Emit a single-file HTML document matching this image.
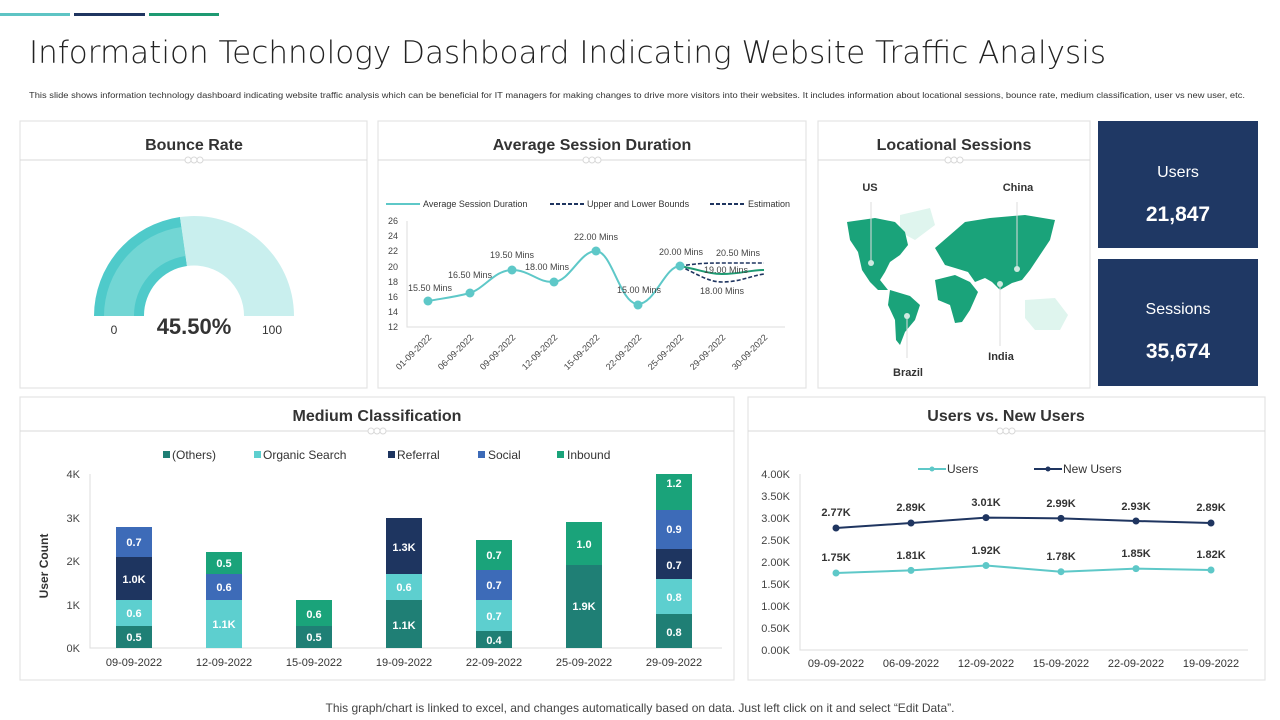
<!DOCTYPE html>
<html><head><meta charset="utf-8"><style>
body{margin:0;background:#fff;}
svg{display:block;font-family:"Liberation Sans",sans-serif;}
</style></head><body>
<svg width="1280" height="720" viewBox="0 0 1280 720" xmlns="http://www.w3.org/2000/svg">
<rect width="1280" height="720" fill="#fff"/>
<rect x="0" y="13" width="70" height="3" fill="#5ec4c4"/>
<rect x="74" y="13" width="71" height="3" fill="#1f3560"/>
<rect x="149" y="13" width="70" height="3" fill="#1e9a72"/>
<text x="29" y="63" font-size="31" fill="#222" font-family="DejaVu Sans, Liberation Sans, sans-serif" font-weight="200" textLength="1077" lengthAdjust="spacingAndGlyphs">Information Technology Dashboard Indicating Website Traffic Analysis</text>
<text x="29" y="98" font-size="8" fill="#333" textLength="1216" lengthAdjust="spacingAndGlyphs">This slide shows information technology dashboard indicating website traffic analysis which can be beneficial for IT managers for making changes to drive more visitors into their websites.  It includes information about locational sessions, bounce rate, medium classification, user vs new user, etc.</text>

<g fill="#fff" stroke="#e4e4e4" stroke-width="1.2">
<rect x="20" y="121" width="347" height="267"/>
<rect x="378" y="121" width="428" height="267"/>
<rect x="818" y="121" width="272" height="267"/>
<rect x="20" y="397" width="714" height="283"/>
<rect x="748" y="397" width="517" height="283"/>
</g>
<rect x="1098" y="121" width="160" height="127" fill="#1f3864"/>
<rect x="1098" y="259" width="160" height="127" fill="#1f3864"/>
<text x="1178" y="177" font-size="16" fill="#fff" text-anchor="middle">Users</text>
<text x="1178" y="221" font-size="21" font-weight="bold" fill="#fff" text-anchor="middle">21,847</text>
<text x="1178" y="314" font-size="16" fill="#fff" text-anchor="middle">Sessions</text>
<text x="1178" y="358" font-size="21" font-weight="bold" fill="#fff" text-anchor="middle">35,674</text>

<!-- titles -->
<g font-size="16" font-weight="bold" fill="#333" text-anchor="middle">
<text x="194" y="150">Bounce Rate</text>
<text x="592" y="150">Average Session Duration</text>
<text x="954" y="150">Locational Sessions</text>
<text x="377" y="421">Medium Classification</text>
<text x="1006" y="421">Users vs. New Users</text>
</g>
<g stroke="#d8d8d8" stroke-width="1" fill="#fff">
<line x1="20" y1="160" x2="367" y2="160"/><line x1="378" y1="160" x2="806" y2="160"/><line x1="818" y1="160" x2="1090" y2="160"/>
<line x1="20" y1="431" x2="734" y2="431"/><line x1="748" y1="431" x2="1265" y2="431"/>
<circle cx="188" cy="160" r="3"/><circle cx="194" cy="160" r="3"/><circle cx="200" cy="160" r="3"/>
<circle cx="586" cy="160" r="3"/><circle cx="592" cy="160" r="3"/><circle cx="598" cy="160" r="3"/>
<circle cx="948" cy="160" r="3"/><circle cx="954" cy="160" r="3"/><circle cx="960" cy="160" r="3"/>
<circle cx="371" cy="431" r="3"/><circle cx="377" cy="431" r="3"/><circle cx="383" cy="431" r="3"/>
<circle cx="1000" cy="431" r="3"/><circle cx="1006" cy="431" r="3"/><circle cx="1012" cy="431" r="3"/>
</g>

<!-- gauge -->
<path d="M94 316 A100 100 0 0 1 180 217 L187 266 A50 50 0 0 0 144 316 Z" fill="#4fcaca"/>
<path d="M104 316 A90 90 0 0 1 181.5 227 L185.5 256 A60 60 0 0 0 134 316 Z" fill="#72d6d4"/>
<path d="M114 316 A80 80 0 0 1 183 237 Z" fill="none"/>
<path d="M180 217 A100 100 0 0 1 294 316 L244 316 A50 50 0 0 0 187 266 Z" fill="#c9efee"/>
<text x="114" y="334" font-size="12" fill="#333" text-anchor="middle">0</text>
<text x="272" y="334" font-size="12" fill="#333" text-anchor="middle">100</text>
<text x="194" y="334" font-size="22" font-weight="bold" fill="#333" text-anchor="middle">45.50%</text>

<!-- avg session -->
<g font-size="9" fill="#333">
<line x1="386" y1="204" x2="420" y2="204" stroke="#5ec8c8" stroke-width="2"/><text x="423" y="207">Average Session Duration</text>
<line x1="550" y1="204" x2="584" y2="204" stroke="#1f3560" stroke-width="2" stroke-dasharray="4,2"/><text x="587" y="207">Upper and Lower Bounds</text>
<line x1="710" y1="204" x2="744" y2="204" stroke="#1f3560" stroke-width="2" stroke-dasharray="4,2"/><text x="748" y="207">Estimation</text>
</g>
<g font-size="9" fill="#444" text-anchor="end">
<text x="398" y="224">26</text><text x="398" y="239">24</text><text x="398" y="254">22</text><text x="398" y="270">20</text><text x="398" y="285">18</text><text x="398" y="300">16</text><text x="398" y="315">14</text><text x="398" y="330">12</text>
</g>
<polyline points="407,221 407,327 785,327" fill="none" stroke="#ddd"/>
<path d="M428 301 C445 298,455 297,470 293 C485 288,495 270,512 270 C530 270,538 283,554 282 C570 281,580 251,596 251 C612 251,620 304,638 304 C655 304,665 266,680 266" fill="none" stroke="#5ec8c8" stroke-width="2"/>
<path d="M680 266 C700 270,710 274,722 274 C740 274,750 270,764 270" fill="none" stroke="#1e9a72" stroke-width="2"/>
<path d="M680 266 C700 263,710 263,722 263 L764 263" fill="none" stroke="#1f3560" stroke-width="1.6" stroke-dasharray="4,2"/>
<path d="M680 266 C700 276,710 282,722 282 C740 282,750 276,764 274" fill="none" stroke="#1f3560" stroke-width="1.6" stroke-dasharray="4,2"/>
<g fill="#5ec8c8"><circle cx="428" cy="301" r="4.5"/><circle cx="470" cy="293" r="4.5"/><circle cx="512" cy="270" r="4.5"/><circle cx="554" cy="282" r="4.5"/><circle cx="596" cy="251" r="4.5"/><circle cx="638" cy="305" r="4.5"/><circle cx="680" cy="266" r="4.5"/></g>
<g font-size="9" fill="#444" text-anchor="middle">
<text x="430" y="291">15.50 Mins</text><text x="470" y="278">16.50 Mins</text><text x="512" y="258">19.50 Mins</text><text x="547" y="270">18.00 Mins</text><text x="596" y="240">22.00 Mins</text><text x="639" y="293">15.00 Mins</text><text x="681" y="255">20.00 Mins</text><text x="738" y="256">20.50 Mins</text><text x="726" y="273">19.00 Mins</text><text x="722" y="294">18.00 Mins</text>
</g>
<g font-size="9" fill="#444" text-anchor="end">
<text transform="translate(432,338) rotate(-45)">01-09-2022</text>
<text transform="translate(474,338) rotate(-45)">06-09-2022</text>
<text transform="translate(516,338) rotate(-45)">09-09-2022</text>
<text transform="translate(558,338) rotate(-45)">12-09-2022</text>
<text transform="translate(600,338) rotate(-45)">15-09-2022</text>
<text transform="translate(642,338) rotate(-45)">22-09-2022</text>
<text transform="translate(684,338) rotate(-45)">25-09-2022</text>
<text transform="translate(726,338) rotate(-45)">29-09-2022</text>
<text transform="translate(768,338) rotate(-45)">30-09-2022</text>
</g>

<!-- map -->
<g fill="#dff5ee">
<path d="M900 215 L930 208 L935 225 L915 240 L900 232 Z"/>
<path d="M1025 300 L1055 298 L1068 315 L1060 330 L1035 330 L1025 318 Z"/>
</g>
<g fill="#1aa37a">
<path d="M847 222 L875 218 L895 222 L905 232 L908 245 L900 255 L890 262 L885 272 L880 280 L888 290 L878 290 L870 282 L862 270 L858 252 L850 240 Z"/>
<path d="M890 290 L910 296 L920 305 L915 320 L905 332 L900 345 L896 340 L895 320 L888 305 Z"/>
<path d="M935 248 L950 235 L965 222 L990 218 L1025 215 L1055 220 L1050 240 L1040 255 L1030 270 L1022 280 L1012 283 L1000 290 L992 282 L985 278 L975 282 L968 272 L955 268 L945 265 Z"/>
<path d="M935 280 L955 275 L970 282 L978 292 L970 310 L962 322 L955 323 L950 305 L938 300 Z"/>
</g>
<g stroke="#ddd" stroke-width="1"><line x1="871" y1="202" x2="871" y2="262"/><line x1="1017" y1="202" x2="1017" y2="268"/><line x1="1000" y1="282" x2="1000" y2="346"/><line x1="907" y1="316" x2="907" y2="358"/></g>
<g fill="#cfe9e0"><circle cx="871" cy="263" r="3"/><circle cx="1017" cy="269" r="3"/><circle cx="1000" cy="284" r="3"/><circle cx="907" cy="316" r="3"/></g>
<g font-size="11" font-weight="bold" fill="#333" text-anchor="middle">
<text x="870" y="191">US</text><text x="1018" y="191">China</text><text x="1001" y="360">India</text><text x="908" y="376">Brazil</text>
</g>

<!-- medium -->
<g font-size="12" fill="#333">
<rect x="163" y="451" width="7" height="7" fill="#1f7f75"/><text x="172" y="459">(Others)</text>
<rect x="254" y="451" width="7" height="7" fill="#5dcfcf"/><text x="263" y="459">Organic Search</text>
<rect x="388" y="451" width="7" height="7" fill="#1e3560"/><text x="397" y="459">Referral</text>
<rect x="478" y="451" width="7" height="7" fill="#3d6bb8"/><text x="488" y="459">Social</text>
<rect x="557" y="451" width="7" height="7" fill="#1aa37a"/><text x="567" y="459">Inbound</text>
</g>
<g font-size="11" fill="#444" text-anchor="end">
<text x="80" y="478">4K</text><text x="80" y="522">3K</text><text x="80" y="565">2K</text><text x="80" y="609">1K</text><text x="80" y="652">0K</text>
</g>
<text transform="translate(48,566) rotate(-90)" font-size="12" font-weight="bold" fill="#333" text-anchor="middle">User Count</text>
<polyline points="90,474 90,648 722,648" fill="none" stroke="#ddd"/>
<g>
<rect x="116" y="626" width="36" height="22" fill="#1f7f75"/><rect x="116" y="600" width="36" height="26" fill="#5dcfcf"/><rect x="116" y="557" width="36" height="43" fill="#1e3560"/><rect x="116" y="527" width="36" height="30" fill="#3d6bb8"/>
<rect x="206" y="600" width="36" height="48" fill="#5dcfcf"/><rect x="206" y="574" width="36" height="26" fill="#3d6bb8"/><rect x="206" y="552" width="36" height="22" fill="#1aa37a"/>
<rect x="296" y="626" width="36" height="22" fill="#1f7f75"/><rect x="296" y="600" width="36" height="26" fill="#1aa37a"/>
<rect x="386" y="600" width="36" height="48" fill="#1f7f75"/><rect x="386" y="574" width="36" height="26" fill="#5dcfcf"/><rect x="386" y="518" width="36" height="56" fill="#1e3560"/>
<rect x="476" y="631" width="36" height="17" fill="#1f7f75"/><rect x="476" y="600" width="36" height="31" fill="#5dcfcf"/><rect x="476" y="570" width="36" height="30" fill="#3d6bb8"/><rect x="476" y="540" width="36" height="30" fill="#1aa37a"/>
<rect x="566" y="565" width="36" height="83" fill="#1f7f75"/><rect x="566" y="522" width="36" height="43" fill="#1aa37a"/>
<rect x="656" y="614" width="36" height="34" fill="#1f7f75"/><rect x="656" y="579" width="36" height="35" fill="#5dcfcf"/><rect x="656" y="549" width="36" height="30" fill="#1e3560"/><rect x="656" y="510" width="36" height="39" fill="#3d6bb8"/><rect x="656" y="474" width="36" height="36" fill="#1aa37a"/>
</g>
<g font-size="11" font-weight="bold" fill="#fff" text-anchor="middle">
<text x="134" y="641">0.5</text><text x="134" y="617">0.6</text><text x="134" y="583">1.0K</text><text x="134" y="546">0.7</text>
<text x="224" y="628">1.1K</text><text x="224" y="591">0.6</text><text x="224" y="567">0.5</text>
<text x="314" y="641">0.5</text><text x="314" y="618">0.6</text>
<text x="404" y="629">1.1K</text><text x="404" y="591">0.6</text><text x="404" y="551">1.3K</text>
<text x="494" y="644">0.4</text><text x="494" y="620">0.7</text><text x="494" y="589">0.7</text><text x="494" y="559">0.7</text>
<text x="584" y="610">1.9K</text><text x="584" y="548">1.0</text>
<text x="674" y="636">0.8</text><text x="674" y="601">0.8</text><text x="674" y="569">0.7</text><text x="674" y="533">0.9</text><text x="674" y="487">1.2</text>
</g>
<g font-size="11" fill="#333" text-anchor="middle">
<text x="134" y="666">09-09-2022</text><text x="224" y="666">12-09-2022</text><text x="314" y="666">15-09-2022</text><text x="404" y="666">19-09-2022</text><text x="494" y="666">22-09-2022</text><text x="584" y="666">25-09-2022</text><text x="674" y="666">29-09-2022</text>
</g>

<!-- users vs new -->
<g font-size="12" fill="#333">
<line x1="918" y1="469" x2="946" y2="469" stroke="#5ec8c8" stroke-width="2"/><circle cx="932" cy="469" r="2.5" fill="#5ec8c8"/><text x="947" y="473">Users</text>
<line x1="1034" y1="469" x2="1062" y2="469" stroke="#1f3560" stroke-width="2"/><circle cx="1048" cy="469" r="2.5" fill="#1f3560"/><text x="1063" y="473">New Users</text>
</g>
<g font-size="11" fill="#444" text-anchor="end">
<text x="790" y="478">4.00K</text><text x="790" y="500">3.50K</text><text x="790" y="522">3.00K</text><text x="790" y="544">2.50K</text><text x="790" y="566">2.00K</text><text x="790" y="588">1.50K</text><text x="790" y="610">1.00K</text><text x="790" y="632">0.50K</text><text x="790" y="654">0.00K</text>
</g>
<polyline points="800,474 800,650 1248,650" fill="none" stroke="#ddd"/>
<polyline points="836,528 911,523 986,517.6 1061,518.4 1136,521 1211,523" fill="none" stroke="#1f3560" stroke-width="2"/>
<polyline points="836,573 911,570.4 986,565.5 1061,571.7 1136,568.6 1211,570" fill="none" stroke="#5ec8c8" stroke-width="2"/>
<g fill="#1f3560"><circle cx="836" cy="528" r="3.5"/><circle cx="911" cy="523" r="3.5"/><circle cx="986" cy="517.6" r="3.5"/><circle cx="1061" cy="518.4" r="3.5"/><circle cx="1136" cy="521" r="3.5"/><circle cx="1211" cy="523" r="3.5"/></g>
<g fill="#5ec8c8"><circle cx="836" cy="573" r="3.5"/><circle cx="911" cy="570.4" r="3.5"/><circle cx="986" cy="565.5" r="3.5"/><circle cx="1061" cy="571.7" r="3.5"/><circle cx="1136" cy="568.6" r="3.5"/><circle cx="1211" cy="570" r="3.5"/></g>
<g font-size="11" font-weight="bold" fill="#333" text-anchor="middle">
<text x="836" y="516">2.77K</text><text x="911" y="511">2.89K</text><text x="986" y="506">3.01K</text><text x="1061" y="507">2.99K</text><text x="1136" y="510">2.93K</text><text x="1211" y="511">2.89K</text>
<text x="836" y="561">1.75K</text><text x="911" y="559">1.81K</text><text x="986" y="554">1.92K</text><text x="1061" y="560">1.78K</text><text x="1136" y="557">1.85K</text><text x="1211" y="558">1.82K</text>
</g>
<g font-size="11" fill="#333" text-anchor="middle">
<text x="836" y="667">09-09-2022</text><text x="911" y="667">06-09-2022</text><text x="986" y="667">12-09-2022</text><text x="1061" y="667">15-09-2022</text><text x="1136" y="667">22-09-2022</text><text x="1211" y="667">19-09-2022</text>
</g>

<text x="640" y="712" font-size="12" fill="#444" text-anchor="middle">This graph/chart is linked to excel,  and changes automatically based on data. Just left click on it and select “Edit Data”.</text>
</svg>
</body></html>
